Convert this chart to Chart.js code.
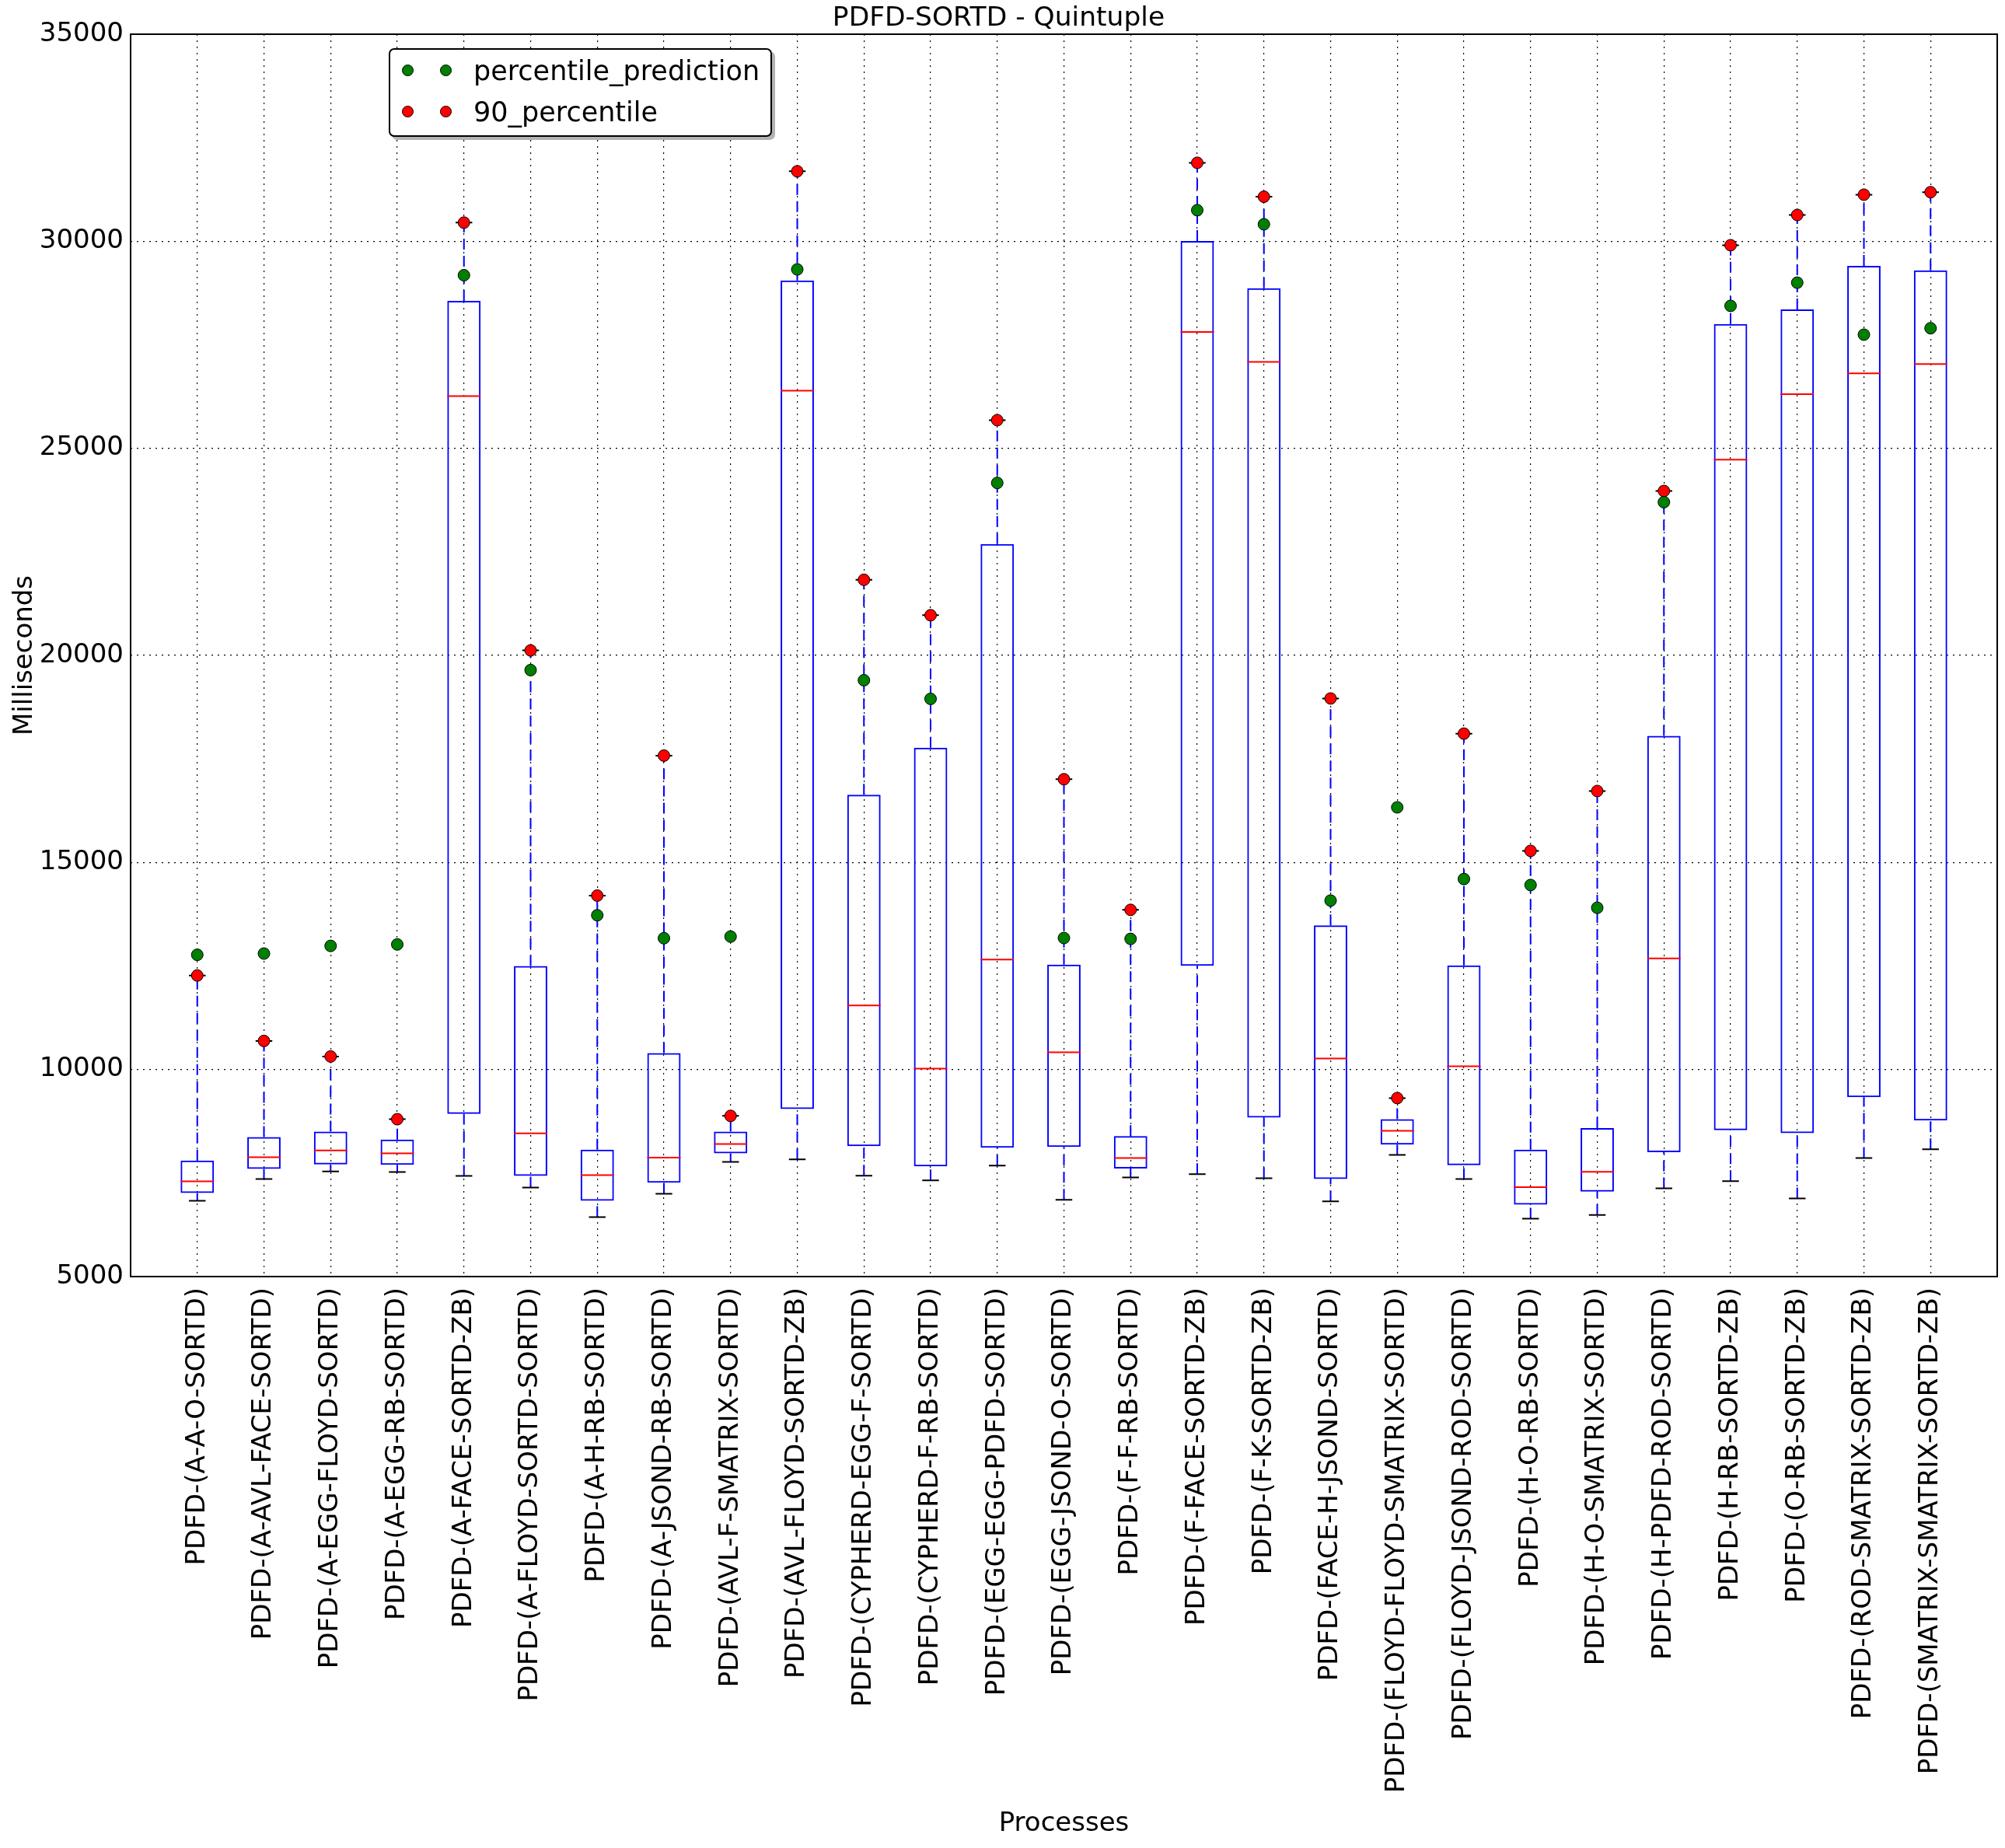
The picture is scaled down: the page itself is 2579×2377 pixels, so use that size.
<!DOCTYPE html>
<html>
<head>
<meta charset="utf-8">
<script src="https://cdn.jsdelivr.net/npm/chart.js@4.4.1/dist/chart.umd.min.js"></script>
<style>
    html, body { margin: 0; padding: 0; background: #fff; }
    #wrap { position: relative; width: 2579px; height: 2377px; }
    #chart { position: absolute; left: 0; top: 0; }
    #legend {
        position: absolute; left: 500px; top: 62px;
        width: 489px; height: 110px;
        border: 2px solid #000; border-radius: 7px; background: #fff;
        box-shadow: 4px 4px 0 rgba(0, 0, 0, 0.3);
        font-family: "DejaVu Sans"; font-size: 35px; color: #000;
    }
    .row { height: 53px; display: flex; align-items: center; }
    .dot { width: 15px; height: 15px; border-radius: 50%; border: 1px solid #000; box-sizing: border-box; }
    .dot.first { margin-left: 15px; }
    .dot.second { margin-left: 34px; }
    .row span.txt { margin-left: 28px; }
</style>
</head>
<body>
<div id="wrap">
    <canvas id="chart" width="2579" height="2377"></canvas>
    <div id="legend">
        <div class="row"><div class="dot first" style="background:#008000"></div><div class="dot second" style="background:#008000"></div><span class="txt">percentile_prediction</span></div>
        <div class="row"><div class="dot first" style="background:#ff0000"></div><div class="dot second" style="background:#ff0000"></div><span class="txt">90_percentile</span></div>
    </div>
</div>
<script>
const processes = [
    "PDFD-(A-A-O-SORTD)",
    "PDFD-(A-AVL-FACE-SORTD)",
    "PDFD-(A-EGG-FLOYD-SORTD)",
    "PDFD-(A-EGG-RB-SORTD)",
    "PDFD-(A-FACE-SORTD-ZB)",
    "PDFD-(A-FLOYD-SORTD-SORTD)",
    "PDFD-(A-H-RB-SORTD)",
    "PDFD-(A-JSOND-RB-SORTD)",
    "PDFD-(AVL-F-SMATRIX-SORTD)",
    "PDFD-(AVL-FLOYD-SORTD-ZB)",
    "PDFD-(CYPHERD-EGG-F-SORTD)",
    "PDFD-(CYPHERD-F-RB-SORTD)",
    "PDFD-(EGG-EGG-PDFD-SORTD)",
    "PDFD-(EGG-JSOND-O-SORTD)",
    "PDFD-(F-F-RB-SORTD)",
    "PDFD-(F-FACE-SORTD-ZB)",
    "PDFD-(F-K-SORTD-ZB)",
    "PDFD-(FACE-H-JSOND-SORTD)",
    "PDFD-(FLOYD-FLOYD-SMATRIX-SORTD)",
    "PDFD-(FLOYD-JSOND-ROD-SORTD)",
    "PDFD-(H-O-RB-SORTD)",
    "PDFD-(H-O-SMATRIX-SORTD)",
    "PDFD-(H-PDFD-ROD-SORTD)",
    "PDFD-(H-RB-SORTD-ZB)",
    "PDFD-(O-RB-SORTD-ZB)",
    "PDFD-(ROD-SMATRIX-SORTD-ZB)",
    "PDFD-(SMATRIX-SMATRIX-SORTD-ZB)",
];

// box plot stats per process (ms)
const whiskerLow = [6830, 7355, 7540, 7525, 7430, 7150, 6435, 7000, 7770, 7830, 7435, 7325, 7680, 6855, 7395, 7475, 7375, 6815, 7940, 7355, 6400, 6490, 7130, 7305, 6885, 7865, 8075];
const quartile1 = [7020, 7600, 7710, 7700, 8930, 7430, 6830, 7265, 7975, 9045, 8150, 7660, 8110, 8130, 7610, 12505, 8840, 7355, 8185, 7690, 6735, 7050, 8005, 8535, 8465, 9330, 8770];
const medians = [7300, 7880, 8045, 7975, 26260, 8460, 7450, 7870, 8200, 26390, 11545, 10020, 12655, 10415, 7865, 27810, 27085, 10265, 8520, 10080, 7160, 7530, 12685, 24725, 26310, 26810, 27035];
const quartile3 = [7800, 8370, 8500, 8310, 28560, 12500, 8065, 10395, 8500, 29055, 16635, 17770, 22690, 12535, 8395, 30005, 28865, 13480, 8800, 12515, 8065, 8585, 18055, 28000, 28355, 29405, 29295];
const percentile90 = [12270, 10690, 10315, 8800, 30450, 20120, 14200, 17580, 8880, 31690, 21825, 20970, 25680, 17010, 13855, 31895, 31075, 18960, 9310, 18110, 15280, 16725, 23970, 29905, 30635, 31125, 31185];
const percentilePrediction = [12770, 12800, 12985, 13020, 29180, 19645, 13725, 13170, 13210, 29320, 19400, 18950, 24165, 13175, 13155, 30750, 30410, 14080, 16330, 14600, 14455, 13905, 23700, 28440, 29000, 27745, 27900];

const yTickValues = [5000, 10000, 15000, 20000, 25000, 30000, 35000];

const FONT = { family: "DejaVu Sans", size: 34, weight: "normal" };

// x axis runs 0..28, boxes sit on 1..27 (like matplotlib's xlim)
const xLabels = ["", ...processes, ""];
const pad = (arr) => [null, ...arr, null];
const slot = (chart) => chart.chartArea ? chart.chartArea.width / (processes.length + 1) : 80;

// whisker segments, broken with null points
const whiskerData = [];
processes.forEach((name, i) => {
    whiskerData.push({ x: name, y: quartile3[i] }, { x: name, y: percentile90[i] }, { x: name, y: null });
    whiskerData.push({ x: name, y: whiskerLow[i] }, { x: name, y: quartile1[i] }, { x: name, y: null });
});

const framePlugin = {
    id: "frame",
    beforeDatasetsDraw(chart) {
        const { ctx, chartArea } = chart;
        ctx.save();
        ctx.strokeStyle = "#000";
        ctx.lineWidth = 2;
        ctx.strokeRect(chartArea.left, chartArea.top, chartArea.width, chartArea.height);
        ctx.restore();
    },
};

function markerSet(label, values, color, order) {
    return {
        type: "line",
        label: label,
        data: pad(values),
        showLine: false,
        pointStyle: "circle",
        pointRadius: 7.5,
        pointBorderWidth: 1,
        pointBorderColor: "#000",
        pointBackgroundColor: color,
        order: order,
    };
}

function lineMarkSet(label, values, color, widthFactor, order) {
    return {
        type: "line",
        label: label,
        data: pad(values),
        showLine: false,
        pointStyle: "line",
        pointRadius: (ctx) => slot(ctx.chart) * widthFactor,
        pointBorderWidth: 2,
        pointBorderColor: color,
        order: order,
    };
}

const ctx = document.getElementById("chart").getContext("2d");
new Chart(ctx, {
    type: "bar",
    data: {
        labels: xLabels,
        datasets: [
            markerSet("percentile_prediction", percentilePrediction, "#008000", 0),
            markerSet("90_percentile", percentile90, "#ff0000", 0),
            lineMarkSet("capHigh", percentile90, "#000", 0.125, 1),
            lineMarkSet("capLow", whiskerLow, "#000", 0.125, 1),
            lineMarkSet("median", medians, "#ff0000", 0.25, 2),
            {
                type: "bar",
                label: "box",
                data: pad(quartile1.map((q, i) => [q, quartile3[i]])),
                backgroundColor: "rgba(0,0,0,0)",
                borderColor: "#0000ff",
                borderWidth: 2,
                borderSkipped: false,
                barPercentage: 0.5,
                categoryPercentage: 1.0,
                order: 3,
            },
            {
                type: "line",
                label: "whiskers",
                data: whiskerData,
                borderColor: "#0000ff",
                borderWidth: 2,
                borderDash: [14, 8],
                pointRadius: 0,
                spanGaps: false,
                fill: false,
                order: 4,
            },
        ],
    },
    options: {
        responsive: false,
        animation: false,
        events: [],
        layout: { autoPadding: false, padding: { left: 0, right: 10, top: 0, bottom: 0 } },
        plugins: {
            legend: { display: false },
            tooltip: { enabled: false },
            title: {
                display: true,
                text: "PDFD-SORTD - Quintuple",
                color: "#000",
                font: { ...FONT, size: 34.5, lineHeight: 1.13 },
                padding: { top: 5, bottom: 0 },
            },
        },
        scales: {
            x: {
                type: "category",
                offset: false,
                grid: { offset: false, color: "#000", lineWidth: 1.2, drawTicks: false },
                border: { display: false, dash: [2, 6] },
                ticks: {
                    autoSkip: false,
                    maxRotation: 90,
                    minRotation: 90,
                    padding: 14,
                    color: "#000",
                    font: FONT,
                },
                title: {
                    display: true,
                    text: "Processes",
                    color: "#000",
                    font: FONT,
                    padding: { top: 0, bottom: 10 },
                },
                afterFit: (scale) => {
                    scale.height = 735;
                    scale.paddingLeft = 0;
                    scale.paddingRight = 0;
                },
            },
            y: {
                type: "linear",
                min: 5000,
                max: 35000,
                afterBuildTicks: (axis) => { axis.ticks = yTickValues.map((v) => ({ value: v })); },
                grid: { color: "#000", lineWidth: 1.2, drawTicks: false },
                border: { display: false, dash: [2, 6] },
                ticks: {
                    padding: 9,
                    color: "#000",
                    font: FONT,
                    callback: (v) => String(v),
                },
                title: {
                    display: true,
                    text: "Milliseconds",
                    color: "#000",
                    font: FONT,
                    padding: { top: 12, bottom: 0 },
                },
                afterFit: (scale) => { scale.width = 168; },
            },
        },
    },
    plugins: [framePlugin],
});
</script>
</body>
</html>
